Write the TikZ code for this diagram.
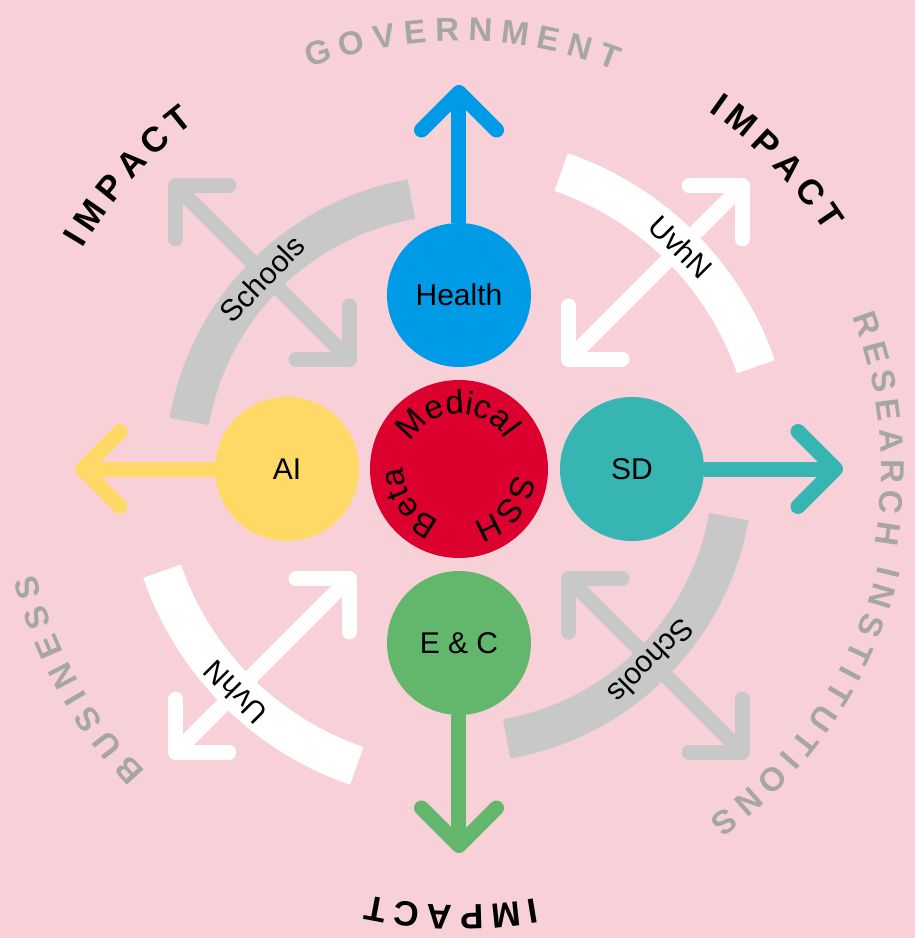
\documentclass[tikz,border=0pt]{standalone}
\usepackage{fontspec}
\setmainfont{Liberation Sans}
\usetikzlibrary{arrows.meta,decorations.text}

\definecolor{bgpink}{RGB}{248,209,216}
\definecolor{bandgray}{RGB}{200,200,200}
\definecolor{labelgray}{RGB}{166,166,164}
\definecolor{healthblue}{RGB}{0,155,230}
\definecolor{aiyellow}{RGB}{255,217,102}
\definecolor{sdteal}{RGB}{54,181,179}
\definecolor{ecgreen}{RGB}{99,183,108}
\definecolor{corered}{RGB}{220,0,46}

\newcommand{\ringfont}[1]{\fontsize{33}{33}\selectfont\bfseries\fontdimen2\font=#1\color{labelgray}}
\newcommand{\impactfont}{\fontsize{35}{35}\selectfont\bfseries\fontdimen2\font=7pt}
\newcommand{\corefont}{\fontsize{30}{30}\selectfont}
\newcommand{\coretext}{\fontsize{33}{33}\selectfont}

\tikzset{
  barb/.tip={Straight Barb[length=37.5pt, width=75pt, round]},
  disc/.style={circle, inner sep=0pt, minimum size=144pt, font=\corefont},
  flow/.style={line width=15pt, -barb},
  twoway/.style={line width=15pt, barb-barb},
  band/.style={line width=40pt},
  bandtext/.style={inner sep=0pt, font=\corefont},
  ring/.style={decorate, decoration={text along path, text align=center, text={#1}}},
}

\begin{document}
\begin{tikzpicture}[x=1pt, y=1pt]
\useasboundingbox (-459,-469) rectangle (456,469);
\fill[bgpink] (-459,-469) rectangle (456,469);

\draw[band, bandgray] (100:274) arc[start angle=100, end angle=170, radius=274pt];
\draw[band, bandgray] (-10:274) arc[start angle=-10, end angle=-80, radius=274pt];
\draw[band, white] (19:314) arc[start angle=19, end angle=71, radius=314pt];
\draw[band, white] (199:314) arc[start angle=199, end angle=251, radius=314pt];

\coordinate (nwin) at (135:148);
\coordinate (nwout) at (135:408);
\coordinate (nein) at (45:148);
\coordinate (neout) at (45:408);
\coordinate (swin) at (225:148);
\coordinate (swout) at (225:408);
\coordinate (sein) at (-45:148);
\coordinate (seout) at (-45:408);
\draw[twoway, bandgray] (nwin) -- (nwout);
\draw[twoway, white] (nein) -- (neout);
\draw[twoway, white] (swin) -- (swout);
\draw[twoway, bandgray] (sein) -- (seout);

\node[bandtext, rotate=46] (schoolsnw) at (136:274) {Schools};
\node[bandtext, rotate=-45] (uvhnne) at (45:314) {UvhN};
\node[bandtext, rotate=135] (uvhnsw) at (225:316) {UvhN};
\node[bandtext, rotate=-135] (schoolsse) at (-45:272) {Schools};

\node[disc, fill=corered, minimum size=178pt] (core) at (0,0) {};
\node[disc, fill=healthblue] (health) at (0,174) {Health};
\node[disc, fill=aiyellow] (ai) at (-172,0) {AI};
\node[disc, fill=sdteal] (sd) at (173,0) {SD};
\node[disc, fill=ecgreen] (ec) at (0,-174) {E \& C};

\coordinate (govtip) at (90:384);
\coordinate (busitip) at (180:384);
\coordinate (restip) at (0:384);
\coordinate (imptip) at (-90:384);
\draw[flow, healthblue] (health) -- (govtip);
\draw[flow, aiyellow] (ai) -- (busitip);
\draw[flow, sdteal] (sd) -- (restip);
\draw[flow, ecgreen] (ec) -- (imptip);

\path[ring={|\coretext|Medical}] (172:55) arc[start angle=172, end angle=12, radius=55pt];
\path[ring={|\coretext|SSH}] (40:55) arc[start angle=40, end angle=-121, radius=55pt];
\path[ring={|\coretext|Beta}] (294:55) arc[start angle=294, end angle=134, radius=55pt];

\path[ring={|\ringfont{8.5pt}|G O V E R N M E N T}] (130.5:428) arc[start angle=130.5, end angle=48.5, radius=428pt];
\path[ring={|\ringfont{6.5pt}|R E S E A R C H}] (45.5:422) arc[start angle=45.5, end angle=-34.5, radius=422pt];
\path[ring={|\ringfont{7.5pt}|I N S T I T U T I O N S}] (6.25:430) arc[start angle=6.25, end angle=-73.75, radius=430pt];
\path[ring={|\ringfont{8.5pt}|B U S I N E S S}] (249:436) arc[start angle=249, end angle=169, radius=436pt];

\path[ring={|\impactfont|I M P A C T}] (178:436) arc[start angle=178, end angle=99, radius=436pt];
\path[ring={|\impactfont|I M P A C T}] (84:436) arc[start angle=84, end angle=4, radius=436pt];
\path[ring={|\impactfont|I M P A C T}] (-51:436) arc[start angle=-51, end angle=-131, radius=436pt];
\end{tikzpicture}
\end{document}
